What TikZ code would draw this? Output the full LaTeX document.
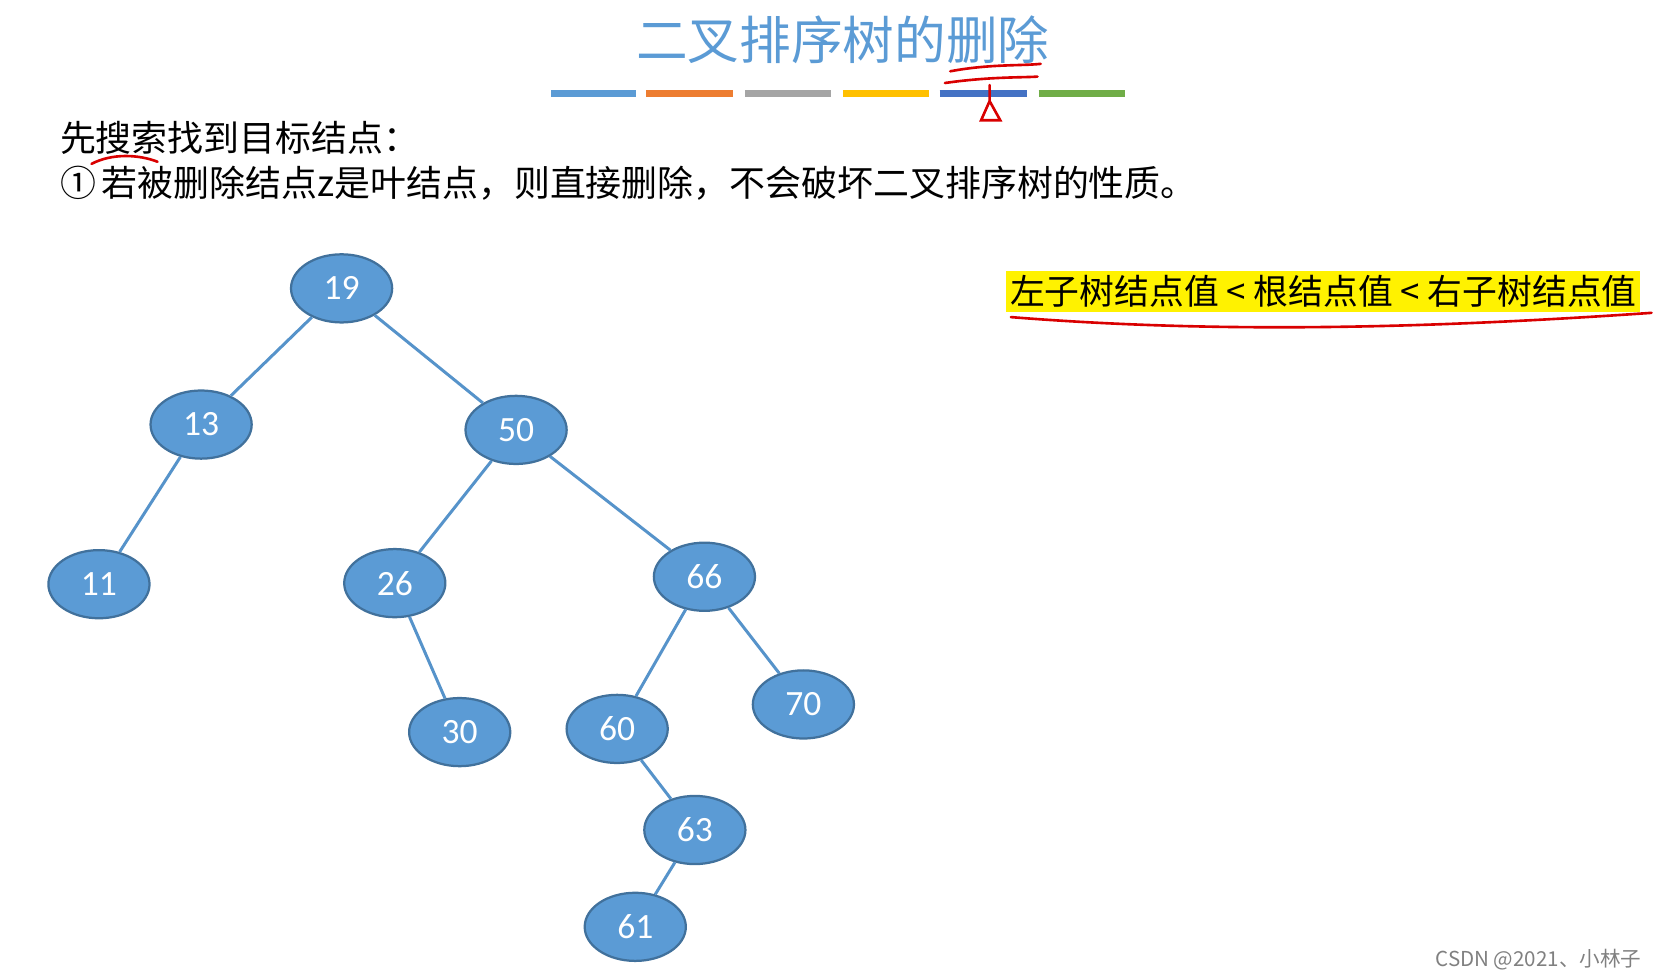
\documentclass[tikz,border=0pt]{standalone}
\usepackage{fontspec}
\setmainfont{Carlito}
\newfontfamily\cjk{Noto Sans CJK SC}
\usetikzlibrary{shapes.geometric}
\definecolor{nodeblue}{RGB}{91,155,213}
\definecolor{nodeline}{RGB}{65,113,156}
\definecolor{titleblue}{RGB}{91,155,213}
\tikzset{
  key/.style={ellipse, draw=nodeline, line width=0.6pt, fill=nodeblue,
    minimum width=0.95cm, minimum height=0.64cm, inner sep=0pt,
    text=white, font=\fontsize{9.5}{10}\selectfont},
  edge/.style={draw=nodeblue!80!nodeline, line width=0.8pt},
  bar/.style={line width=0.07cm},
  scribble/.style={red!85!black, line width=0.7pt, line cap=round}
}
\begin{document}
\begin{tikzpicture}[x=0.01cm, y=-0.01cm]
\useasboundingbox (0,0) rectangle (1560,915);
% title
\node (title) at (792,37) {\cjk\fontsize{13.8}{15}\selectfont\color{titleblue}二叉排序树的删除};
\draw[bar, color={rgb,255:red,91;green,155;blue,213}] (518,88) -- (598,88);
\draw[bar, color={rgb,255:red,237;green,125;blue,49}] (607,88) -- (689,88);
\draw[bar, color={rgb,255:red,165;green,165;blue,165}] (700,88) -- (781,88);
\draw[bar, color={rgb,255:red,255;green,192;blue,0}] (792,88) -- (873,88);
\draw[bar, color={rgb,255:red,68;green,114;blue,196}] (883,88) -- (965,88);
\draw[bar, color={rgb,255:red,112;green,173;blue,71}] (976,88) -- (1057,88);
\draw[scribble] (893,67) .. controls (930,60) and (960,62) .. (978,60);
\draw[scribble] (888,78) .. controls (930,72) and (960,73) .. (975,72);
\draw[scribble] (930,80) -- (930,95) -- (922,113) -- (940,113) -- (930,95);
% text
\node[anchor=west] (line1) at (44,130) {\cjk\fontsize{9.6}{11}\selectfont 先搜索找到目标结点：};
\node[anchor=west] (line2) at (44,172) {\cjk\fontsize{9.6}{11}\selectfont ①\,若被删除结点\textit{z}是叶结点，则直接删除，不会破坏二叉排序树的性质。};
\draw[scribble] (86,154) .. controls (105,144) and (130,145) .. (148,152);
\node[anchor=west, fill=yellow, inner sep=1pt, minimum height=0.38cm] (rule) at (945,274)
  {\cjk\fontsize{9.3}{11}\selectfont 左子树结点值 < 根结点值 < 右子树结点值};
\draw[scribble] (950,298) .. controls (1150,314) and (1350,308) .. (1552,294);
% tree
\node[key] (n19) at (321,271) {19};
\node[key] (n13) at (189,399) {13};
\node[key] (n50) at (485,404) {50};
\node[key] (n11) at (93,549) {11};
\node[key] (n26) at (371,548) {26};
\node[key] (n66) at (662,542) {66};
\node[key] (n30) at (432,688) {30};
\node[key] (n60) at (580,685) {60};
\node[key] (n70) at (755,662) {70};
\node[key] (n63) at (653,780) {63};
\node[key] (n61) at (597,871) {61};
\foreach \a/\b in {n19/n13, n19/n50, n13/n11, n50/n26, n50/n66, n26/n30,
                   n66/n60, n66/n70, n60/n63, n63/n61}
  \draw[edge] (\a) -- (\b);
% watermark
\node[anchor=east, text=gray] (mark) at (1555,902) {\cjk\fontsize{5.5}{7}\selectfont CSDN @2021、小林子};
\end{tikzpicture}
\end{document}
